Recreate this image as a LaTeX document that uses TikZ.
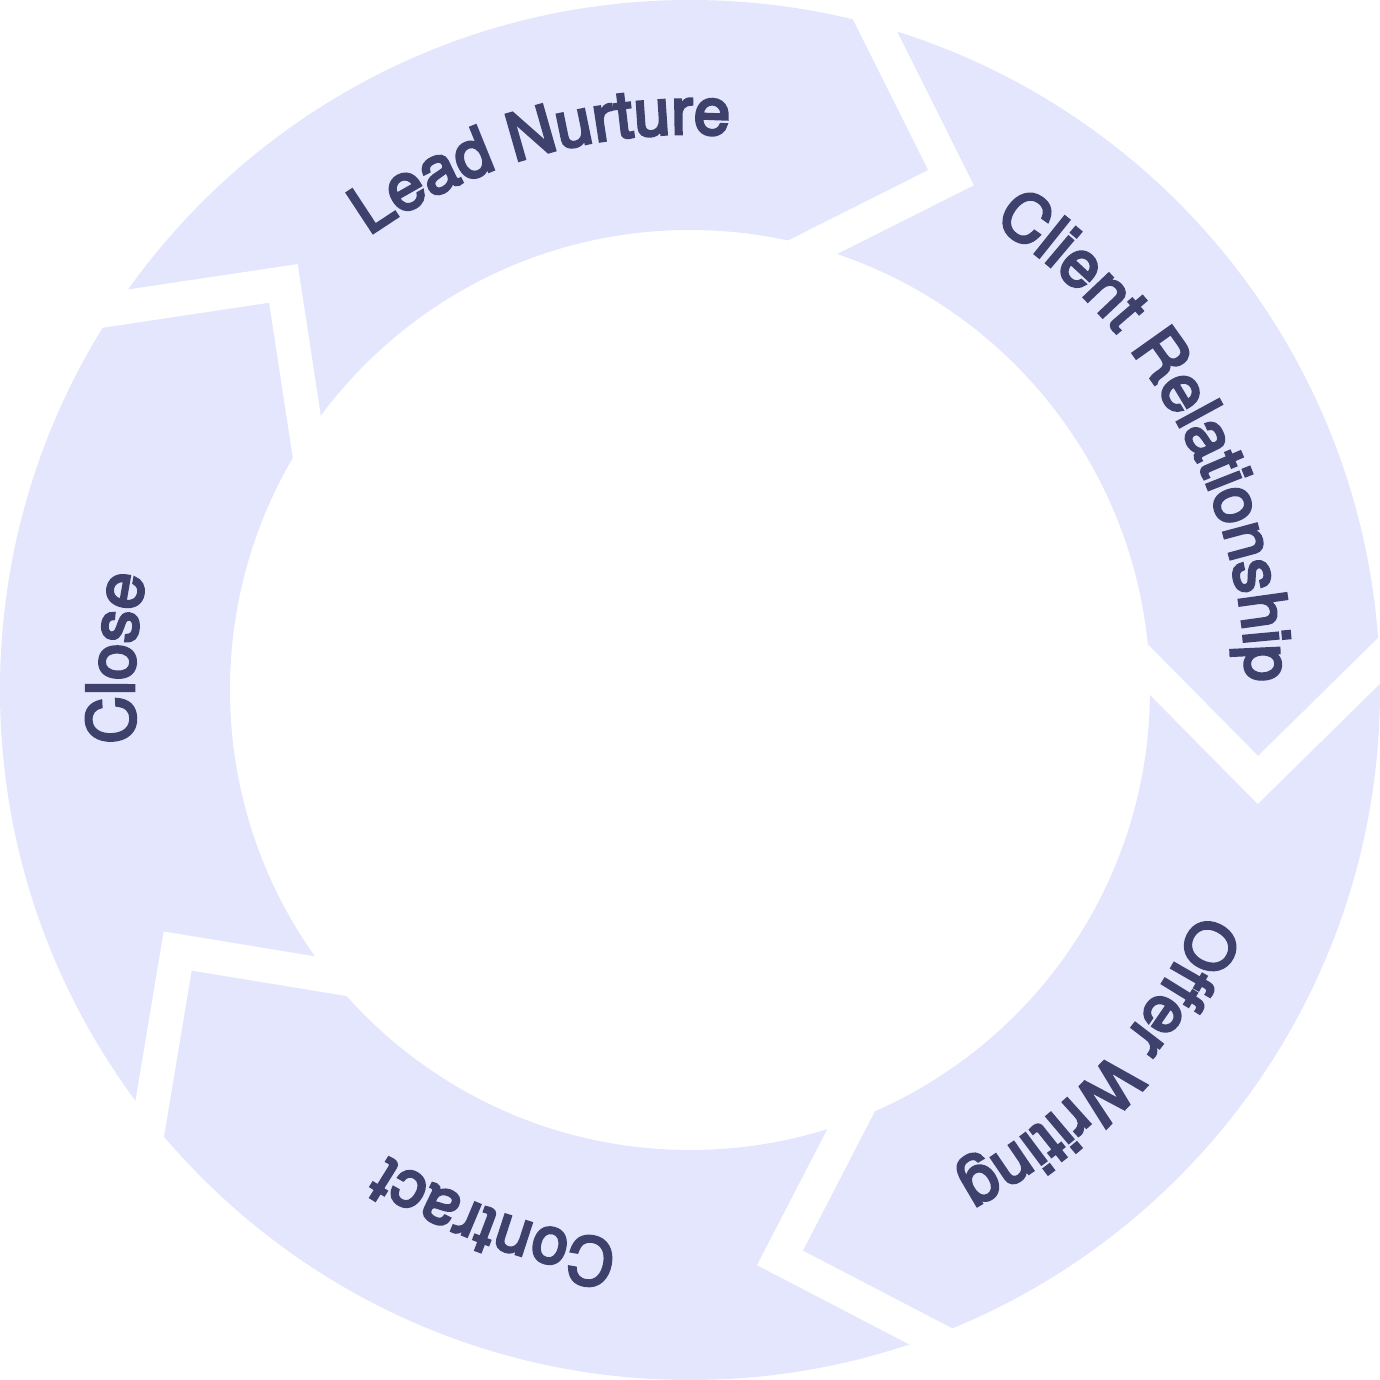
\documentclass[tikz,border=0pt]{standalone}
\usepackage{fontspec}
\usetikzlibrary{calc,decorations.text}
\newfontfamily\labelfamily{TeX Gyre Heros}[FakeBold=4.2]
\definecolor{ringfill}{RGB}{228,230,254}
\definecolor{labeltext}{RGB}{62,65,107}
\newcommand\ringtext[2]{%
  \path[decorate, decoration={text along path, text align=center, text color=labeltext,
    text={|\labelfamily\fontsize{18.6pt}{22pt}\selectfont|#2}}]
    (#1+45:5.56) arc[start angle=#1+45, end angle=#1-45, radius=5.56];}
\begin{document}
\begin{tikzpicture}
\useasboundingbox (-6.9,-6.9) rectangle (6.9,6.9);
\fill[ringfill, even odd rule] (0,0) circle (6.9) (0,0) circle (4.6);
\foreach \t in {74.45, 2.45, -69.55, -141.55, 146.45} {
  \coordinate (o) at (\t:6.9);
  \coordinate (m) at (\t-11.45:5.75);
  \coordinate (i) at (\t:4.6);
  \draw[white, line width=0.34cm, line join=miter] ($(m)!1.6!(o)$) -- (m) -- ($(m)!1.6!(i)$);
}
\ringtext{105.6}{Lead Nurture}
\ringtext{28.9}{Client Relationship}
\ringtext{-42.5}{Offer Writing}
\ringtext{-110.2}{Contract}
\ringtext{176.8}{Close}
\end{tikzpicture}
\end{document}
